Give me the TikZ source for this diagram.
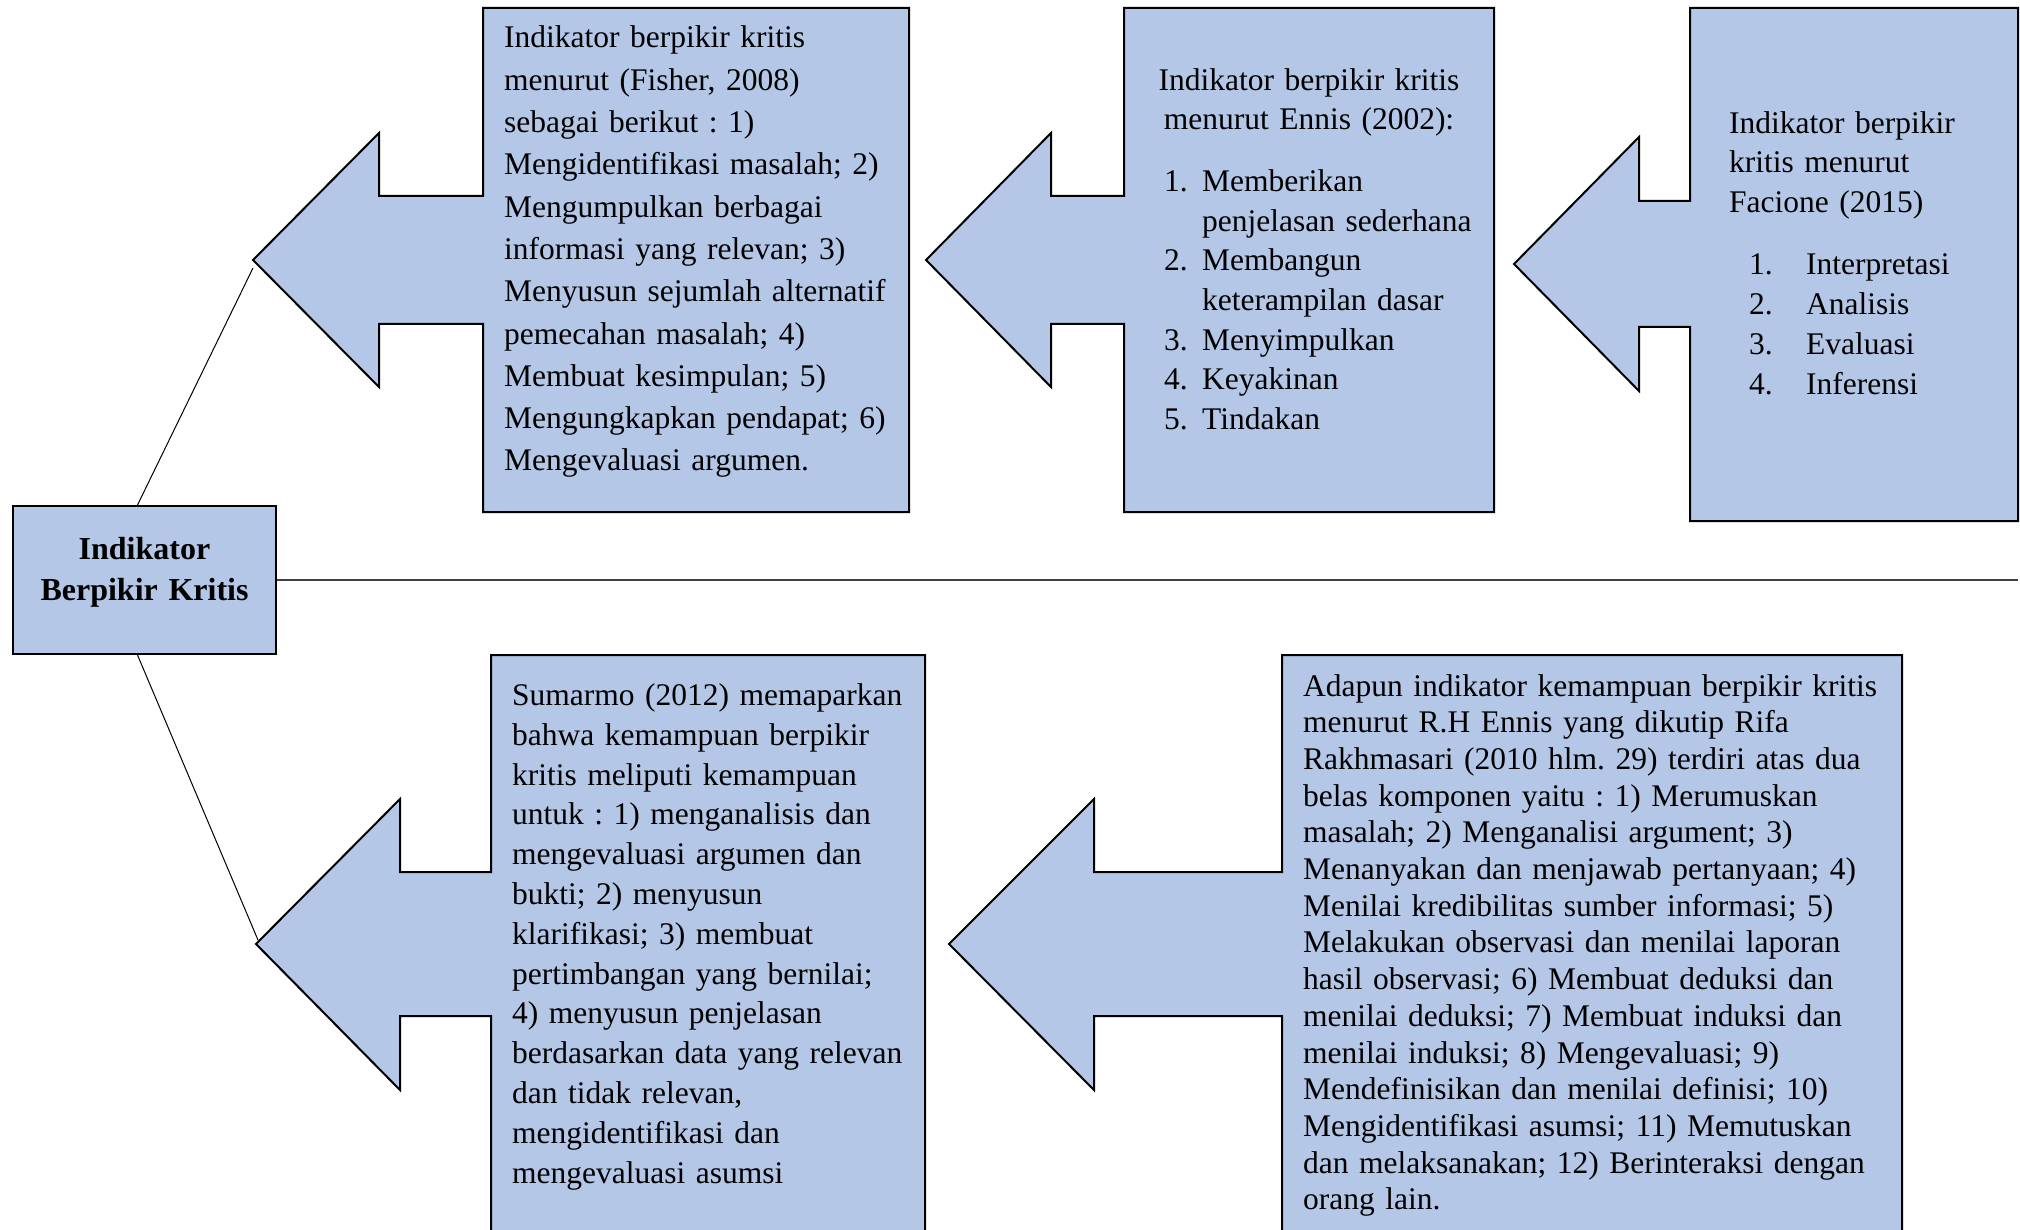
\documentclass[tikz,border=0pt]{standalone}
\usepackage{fontspec}
\setmainfont{Liberation Serif}
\definecolor{calloutblue}{HTML}{B4C7E7}
\definecolor{hline}{HTML}{404040}
\newcommand{\numbox}[2]{\makebox[#1][l]{#2}}
\frenchspacing
\begin{document}
\begin{tikzpicture}[x=1pt,y=-1pt,
  callout/.style={fill=calloutblue,draw=black,line width=2pt,line join=miter},
  txt/.style={inner sep=0pt,anchor=base west,align=left,text width=#1},
  txt/.default=700pt,
  conn/.style={draw=black,line width=1pt},
]
\clip (0,0) rectangle (2020,1230);
\fill[white] (0,0) rectangle (2020,1230);

% ---- callout shapes ----
% Fisher
\draw[callout] (483,8) -- (909,8) -- (909,512) -- (483,512) -- (483,324) -- (379,324) -- (379,387)
  -- (253,260) coordinate (fisherTip) -- (379,133) -- (379,196) -- (483,196) -- cycle;
% Ennis
\draw[callout] (1124,8) -- (1494,8) -- (1494,512) -- (1124,512) -- (1124,324) -- (1051,324) -- (1051,387)
  -- (926,260) coordinate (ennisTip) -- (1051,133) -- (1051,196) -- (1124,196) -- cycle;
% Facione
\draw[callout] (1690,8) -- (2018,8) -- (2018,521) -- (1690,521) -- (1690,327) -- (1639,327) -- (1639,391)
  -- (1514,264) coordinate (facioneTip) -- (1639,137) -- (1639,201) -- (1690,201) -- cycle;
% Sumarmo
\draw[callout] (491,655) -- (925,655) -- (925,1250) -- (491,1250) -- (491,1016) -- (400,1016) -- (400,1090)
  -- (256,944) coordinate (sumarmoTip) -- (400,799) -- (400,872) -- (491,872) -- cycle;
% Rakhmasari
\draw[callout] (1282,655) -- (1902,655) -- (1902,1250) -- (1282,1250) -- (1282,1016) -- (1094,1016) -- (1094,1090)
  -- (949,944) coordinate (rakhTip) -- (1094,799) -- (1094,872) -- (1282,872) -- cycle;

% ---- central node ----
\node[draw=black,fill=calloutblue,line width=2pt,minimum width=263pt,minimum height=148pt,inner sep=0pt]
  (center) at (144.5,580) {};
\node[inner sep=0pt,anchor=base,align=center,text width=263pt,font=\fontsize{32}{41}\selectfont\bfseries]
  (centertext) at (144.5,559) {Indikator\\Berpikir Kritis};

% ---- connectors ----
\coordinate (fisherEnd) at (253,268);
\coordinate (sumarmoEnd) at (258,940);
\coordinate (hEnd) at (2018,580);
\draw[conn] ([xshift=-7pt]center.north) -- (fisherEnd);
\draw[conn] ([xshift=-7pt]center.south) -- (sumarmoEnd);
\draw[draw=hline,line width=1.3pt] (center.east) -- (hEnd);

% ---- texts ----
\node[txt,font=\fontsize{31.5}{42.3}\selectfont] (fishertext) at (504,48) {%
Indikator berpikir kritis\\
menurut (Fisher, 2008)\\
sebagai berikut : 1)\\
Mengidentifikasi masalah; 2)\\
Mengumpulkan berbagai\\
informasi yang relevan; 3)\\
Menyusun sejumlah alternatif\\
pemecahan masalah; 4)\\
Membuat kesimpulan; 5)\\
Mengungkapkan pendapat; 6)\\
Mengevaluasi argumen.};

\node[inner sep=0pt,anchor=base,align=center,text width=370pt,font=\fontsize{31.5}{39.5}\selectfont]
  (ennishead) at (1309,90.5) {Indikator berpikir kritis\\menurut Ennis (2002):};
\node[txt,font=\fontsize{31.5}{39.7}\selectfont] (ennislist) at (1164,191.5) {%
\numbox{38pt}{1.}Memberikan\\
\numbox{38pt}{}penjelasan sederhana\\
\numbox{38pt}{2.}Membangun\\
\numbox{38pt}{}keterampilan dasar\\
\numbox{38pt}{3.}Menyimpulkan\\
\numbox{38pt}{4.}Keyakinan\\
\numbox{38pt}{5.}Tindakan};

\node[txt,font=\fontsize{31.5}{39.5}\selectfont] (facionehead) at (1729,133.5) {%
Indikator berpikir\\
kritis menurut\\
Facione (2015)};
\node[txt,font=\fontsize{31.5}{40}\selectfont] (facionelist) at (1749,274.5) {%
\numbox{57pt}{1.}Interpretasi\\
\numbox{57pt}{2.}Analisis\\
\numbox{57pt}{3.}Evaluasi\\
\numbox{57pt}{4.}Inferensi};

\node[txt,font=\fontsize{31.5}{39.8}\selectfont] (sumarmotext) at (512,705.5) {%
Sumarmo (2012) memaparkan\\
bahwa kemampuan berpikir\\
kritis meliputi kemampuan\\
untuk : 1) menganalisis dan\\
mengevaluasi argumen dan\\
bukti; 2) menyusun\\
klarifikasi; 3) membuat\\
pertimbangan yang bernilai;\\
4) menyusun penjelasan\\
berdasarkan data yang relevan\\
dan tidak relevan,\\
mengidentifikasi dan\\
mengevaluasi asumsi};

\node[txt,font=\fontsize{31.5}{36.7}\selectfont] (rakhtext) at (1303,696) {%
Adapun indikator kemampuan berpikir kritis\\
menurut R.H Ennis yang dikutip Rifa\\
Rakhmasari (2010 hlm. 29) terdiri atas dua\\
belas komponen yaitu : 1) Merumuskan\\
masalah; 2) Menganalisi argument; 3)\\
Menanyakan dan menjawab pertanyaan; 4)\\
Menilai kredibilitas sumber informasi; 5)\\
Melakukan observasi dan menilai laporan\\
hasil observasi; 6) Membuat deduksi dan\\
menilai deduksi; 7) Membuat induksi dan\\
menilai induksi; 8) Mengevaluasi; 9)\\
Mendefinisikan dan menilai definisi; 10)\\
Mengidentifikasi asumsi; 11) Memutuskan\\
dan melaksanakan; 12) Berinteraksi dengan\\
orang lain.};
\end{tikzpicture}
\end{document}
